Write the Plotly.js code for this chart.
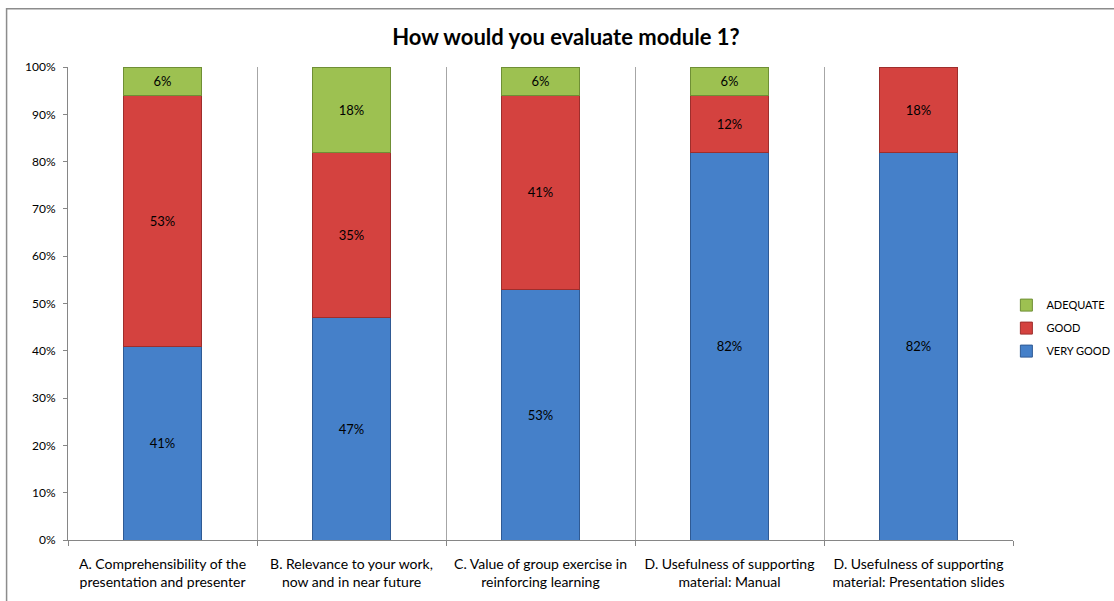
<!DOCTYPE html>
<html>
<head>
<meta charset="utf-8">
<script src="https://cdn.plot.ly/plotly-3.0.1.min.js"></script>
<style>
  html, body { margin: 0; padding: 0; background: #ffffff; }
  #chart { width: 1114px; height: 601px; }
</style>
</head>
<body>
<div id="chart"></div>
<script>
// Survey categories (two-line axis labels)
const categories = [
  "A. Comprehensibility of the<br>presentation and presenter",
  "B. Relevance to your work,<br>now and in near future",
  "C. Value of group exercise in<br>reinforcing learning",
  "D. Usefulness of supporting<br>material: Manual",
  "D. Usefulness of supporting<br>material: Presentation slides"
];

// Share of respondents per rating, in percent
const veryGood = [41, 47, 53, 82, 82];
const good     = [53, 35, 41, 12, 18];
const adequate = [6, 18, 6, 6, null];

const seriesNames = ["VERY GOOD", "GOOD", "ADEQUATE"];

const yTickVals = [0, 10, 20, 30, 40, 50, 60, 70, 80, 90, 100];
const yTickText = ["0%", "10%", "20%", "30%", "40%", "50%", "60%", "70%", "80%", "90%", "100%"];

const fontFamily = "Lato, 'Liberation Sans', sans-serif";

function barTrace(name, values, fill, edge, rank) {
  return {
    type: "bar",
    name: name,
    legendgroup: name,
    legendrank: rank,
    x: categories,
    y: values,
    text: values.map(v => (v == null ? "" : v + "%")),
    texttemplate: "%{text}",
    marker: { color: fill, line: { color: edge, width: 1 } },
    textposition: "inside",
    insidetextanchor: "middle",
    textangle: 0,
    constraintext: "none",
    textfont: { family: fontFamily, size: 13, color: "#000000" },
    hoverinfo: "skip"
  };
}

// Legend lists the top segment first
const data = [
  barTrace(seriesNames[0], veryGood, "#4580c9", "#2f5a94", 3),
  barTrace(seriesNames[1], good, "#d4423f", "#9e2e2c", 2),
  barTrace(seriesNames[2], adequate, "#9dc151", "#6f8f35", 1)
];

const layout = {
  width: 1114,
  height: 601,
  paper_bgcolor: "#ffffff",
  plot_bgcolor: "#ffffff",
  margin: { l: 68, r: 101, t: 67, b: 61, autoexpand: false },
  barmode: "stack",
  bargap: 0.59,
  showlegend: true,
  font: { family: fontFamily, size: 12, color: "#000000" },
  title: {
    text: "<b>How would you evaluate module 1?</b>",
    font: { family: fontFamily, size: 22, color: "#000000" },
    x: 0.508,
    xref: "container",
    xanchor: "center",
    y: 0.938,
    yref: "container",
    yanchor: "middle"
  },
  xaxis: {
    type: "category",
    tickson: "boundaries",
    showgrid: true,
    gridcolor: "#a6a6a6",
    gridwidth: 1,
    showline: true,
    linecolor: "#868686",
    linewidth: 1,
    ticks: "outside",
    ticklen: 5,
    tickcolor: "#868686",
    tickfont: { family: fontFamily, size: 14, color: "#000000" },
    ticklabelstandoff: 11,
    fixedrange: true
  },
  yaxis: {
    range: [0, 100],
    tickvals: yTickVals,
    ticktext: yTickText,
    showgrid: false,
    zeroline: false,
    showline: true,
    linecolor: "#868686",
    linewidth: 1,
    ticks: "outside",
    ticklen: 4,
    tickcolor: "#868686",
    tickfont: { family: fontFamily, size: 12, color: "#000000" },
    ticklabelstandoff: 5,
    fixedrange: true
  },
  legend: {
    x: 0.993,
    xanchor: "left",
    y: 0.448,
    yanchor: "middle",
    traceorder: "grouped",
    tracegroupgap: 4,
    font: { family: fontFamily, size: 11, color: "#000000" },
    bgcolor: "rgba(0,0,0,0)",
    itemwidth: 30
  },
  shapes: [
    {
      type: "rect",
      xref: "paper",
      yref: "paper",
      x0: -0.065,
      x1: 1.2,
      y0: -0.2,
      y1: 1.123,
      line: { color: "#8c8c8c", width: 1.5 },
      fillcolor: "rgba(0,0,0,0)",
      layer: "below"
    }
  ]
};

Plotly.newPlot("chart", data, layout, { displayModeBar: false, staticPlot: true });
</script>
</body>
</html>
